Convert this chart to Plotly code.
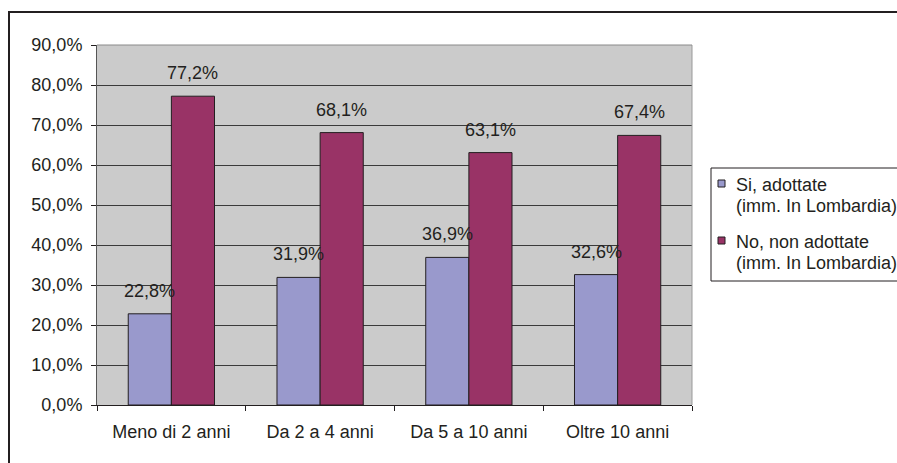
import plotly.graph_objects as go

categories = ["Meno di 2 anni", "Da 2 a 4 anni", "Da 5 a 10 anni", "Oltre 10 anni"]
si_values = [22.8, 31.9, 36.9, 32.6]
no_values = [77.2, 68.1, 63.1, 67.4]
series_names = ["Si, adottate<br>(imm. In Lombardia)", "No, non adottate<br>(imm. In Lombardia)"]
y_ticks = [0, 10, 20, 30, 40, 50, 60, 70, 80, 90]
y_ticktext = ["0,0%", "10,0%", "20,0%", "30,0%", "40,0%", "50,0%", "60,0%", "70,0%", "80,0%", "90,0%"]

FONT = "Liberation Sans, Arial, sans-serif"
FS = 18
TXT = "#231f20"
C_SI = "#9999cc"
C_NO = "#993366"
colors = [C_SI, C_NO]

def fmt(v):
    return f"{v:.1f}".replace(".", ",") + "%"

W, H = 897, 463
L, T = 97, 45
PR, PB = 692, 405
R, B = W - PR, H - PB
pw, ph = W - L - R, H - T - B

def px_x(sx):
    return (sx - L) / pw

def px_y(sy):
    return (H - B - sy) / ph

fig = go.Figure()
for name, vals, col in zip(series_names, [si_values, no_values], colors):
    fig.add_trace(go.Bar(x=categories, y=vals, name=name, showlegend=False,
                         marker=dict(color=col, line=dict(color="#231f20", width=1))))

annotations = []
for shift, vals in ((-21.6, si_values), (21.6, no_values)):
    for c, v in zip(categories, vals):
        annotations.append(dict(x=c, y=v, xref="x", yref="y", text=fmt(v), showarrow=False,
                                xshift=shift, yshift=23, yanchor="middle",
                                font=dict(family=FONT, size=FS, color=TXT)))

shapes = [
    # outer frame
    dict(type="rect", xref="paper", yref="paper", x0=px_x(9), x1=px_x(910), y0=px_y(12), y1=px_y(480),
         line=dict(color="#231f20", width=2), fillcolor="rgba(0,0,0,0)", layer="above"),
    # plot area border (right and top)
    dict(type="line", xref="paper", yref="paper", x0=1, x1=1, y0=0, y1=1,
         line=dict(color="#999999", width=1), layer="above"),
    dict(type="line", xref="paper", yref="paper", x0=0, x1=1, y0=1, y1=1,
         line=dict(color="#8a8a8a", width=1), layer="above"),
    # legend box
    dict(type="rect", xref="paper", yref="paper", x0=px_x(711), x1=px_x(905), y0=px_y(168), y1=px_y(281),
         line=dict(color="#231f20", width=1), fillcolor="white", layer="above"),
]

# manual legend entries
entry_top = [180, 237]
line_centers = [(185, 206), (242, 263)]
for name, col, sq_top, centers in zip(series_names, colors, entry_top, line_centers):
    shapes.append(dict(type="rect", xref="paper", yref="paper",
                       x0=px_x(718), x1=px_x(725), y0=px_y(sq_top), y1=px_y(sq_top + 7),
                       line=dict(color="#231f20", width=1), fillcolor=col, layer="above"))
    for line_text, cy in zip(name.split("<br>"), centers):
        annotations.append(dict(x=px_x(734), y=px_y(cy), xref="paper", yref="paper",
                                text=line_text, showarrow=False, xanchor="left", yanchor="middle",
                                font=dict(family=FONT, size=FS, color=TXT)))

fig.update_layout(
    width=W, height=H,
    margin=dict(l=L, r=R, t=T, b=B),
    paper_bgcolor="white",
    plot_bgcolor="#cbcbcb",
    barmode="group",
    bargap=0.42,
    bargroupgap=0,
    font=dict(family=FONT, size=FS, color=TXT),
    showlegend=False,
    xaxis=dict(type="category", tickson="boundaries", ticks="outside", ticklen=5,
               tickcolor="#231f20", showline=True, linecolor="#231f20", linewidth=1,
               showgrid=False, ticklabelstandoff=10,
               tickfont=dict(family=FONT, size=FS, color=TXT)),
    yaxis=dict(range=[0, 90], tickvals=y_ticks, ticktext=y_ticktext, ticks="outside", ticklen=5,
               tickcolor="#231f20", showline=True, linecolor="#555555", linewidth=1,
               showgrid=True, gridcolor="#3a3a3a", gridwidth=1, zeroline=False,
               ticklabelstandoff=5,
               tickfont=dict(family=FONT, size=FS, color=TXT)),
    annotations=annotations,
    shapes=shapes,
)

fig.write_html("out.html",
               config={"displayModeBar": False},
               post_script="document.body.style.margin='0';document.body.style.overflow='hidden';")
